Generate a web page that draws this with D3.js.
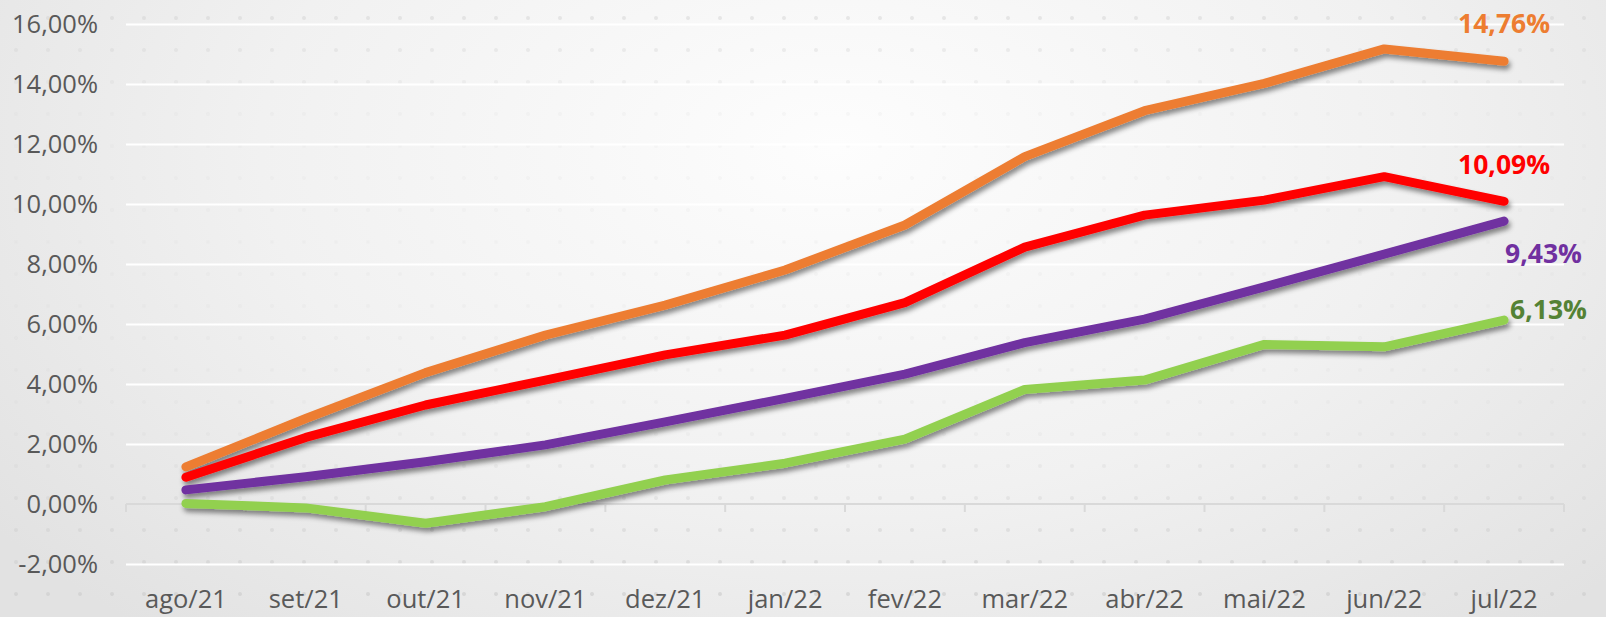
<!DOCTYPE html>
<html>
<head>
<meta charset="utf-8">
<script src="https://cdn.jsdelivr.net/npm/d3@7"></script>
<style>
  html, body { margin: 0; padding: 0; background: #f2f2f2; }
  svg { display: block; }
  text { font-family: "Open Sans", Lato, sans-serif; }
</style>
</head>
<body>
<div id="chart"></div>
<script>
// data
var months = ["ago/21", "set/21", "out/21", "nov/21", "dez/21", "jan/22",
              "fev/22", "mar/22", "abr/22", "mai/22", "jun/22", "jul/22"];
var seriesOrange = [1.24, 2.85, 4.38, 5.63, 6.63, 7.80, 9.30, 11.58, 13.11, 14.02, 15.17, 14.76];
var seriesRed    = [0.89, 2.22, 3.30, 4.13, 4.97, 5.63, 6.71, 8.56, 9.63, 10.13, 10.91, 10.09];
var seriesPurple = [0.47, 0.91, 1.41, 1.97, 2.74, 3.52, 4.33, 5.38, 6.16, 7.24, 8.33, 9.43];
var seriesGreen  = [0.02, -0.13, -0.64, -0.09, 0.80, 1.36, 2.16, 3.82, 4.13, 5.32, 5.24, 6.13];
var yTicks = [-2, 0, 2, 4, 6, 8, 10, 12, 14, 16];

var chart = {}
chart.width = 1606;
chart.height = 617;
chart.margin = {top: 24, right: 42, bottom: 53, left: 126};
chart.innerW = chart.width - chart.margin.left - chart.margin.right;
chart.innerH = chart.height - chart.margin.top - chart.margin.bottom;

var lines = [
  {values: seriesOrange, color: "#ED7D31", labelColor: "#ED7D31", dx: 0,  dy: -37, anchor: "middle"},
  {values: seriesRed,    color: "#FF0000", labelColor: "#FF0000", dx: 0,  dy: -37, anchor: "middle"},
  {values: seriesPurple, color: "#7030A0", labelColor: "#7030A0", dx: 1,  dy: 33,  anchor: "start"},
  {values: seriesGreen,  color: "#92D050", labelColor: "#548235", dx: 6,  dy: -10, anchor: "start"}
];

var fmt = function(v){ return v.toFixed(2).replace(".", ",") + "%"; };

var svg = d3.select("#chart")
  .append("svg")
  .attr("width", chart.width)
  .attr("height", chart.height);

var defs = svg.append("defs");

// background gradient
var bg = defs.append("radialGradient")
  .attr("id", "bg")
  .attr("cx", "52%").attr("cy", "30%").attr("r", "65%")
  .attr("gradientTransform", "scale(1,1.6) translate(0,-0.15)");
bg.append("stop").attr("offset", "0%").attr("stop-color", "#fdfdfd");
bg.append("stop").attr("offset", "55%").attr("stop-color", "#f1f1f1");
bg.append("stop").attr("offset", "100%").attr("stop-color", "#e2e2e2");

// faint dots texture
var pat = defs.append("pattern")
  .attr("id", "dots")
  .attr("width", 32).attr("height", 32)
  .attr("patternUnits", "userSpaceOnUse");
pat.append("circle").attr("cx", 16).attr("cy", 18).attr("r", 2).attr("fill", "#cfcfcf");

var fade = defs.append("linearGradient")
  .attr("id", "fade").attr("x1", 0).attr("y1", 0).attr("x2", 0).attr("y2", 1);
fade.append("stop").attr("offset", "0%").attr("stop-color", "#fff").attr("stop-opacity", 0.5);
fade.append("stop").attr("offset", "20%").attr("stop-color", "#fff").attr("stop-opacity", 0.1);
fade.append("stop").attr("offset", "70%").attr("stop-color", "#fff").attr("stop-opacity", 0.15);
fade.append("stop").attr("offset", "100%").attr("stop-color", "#fff").attr("stop-opacity", 0.8);
defs.append("mask").attr("id", "dotmask")
  .append("rect").attr("width", chart.width).attr("height", chart.height).attr("fill", "url(#fade)");

// shadow under the lines
var shadow = defs.append("filter")
  .attr("id", "shadow")
  .attr("x", "-5%").attr("y", "-20%").attr("width", "110%").attr("height", "140%");
shadow.append("feDropShadow")
  .attr("dx", 2).attr("dy", 4).attr("stdDeviation", 2.5)
  .attr("flood-color", "#000").attr("flood-opacity", 0.45);

svg.append("rect")
  .attr("width", chart.width).attr("height", chart.height)
  .attr("fill", "url(#bg)");
svg.append("rect")
  .attr("width", chart.width).attr("height", chart.height)
  .attr("fill", "url(#dots)")
  .attr("mask", "url(#dotmask)");

var g = svg.append("g")
  .attr("transform", "translate(" + chart.margin.left + "," + chart.margin.top + ")");

var x = d3.scaleBand()
  .domain(months)
  .range([0, chart.innerW])
  .padding(0);

var y = d3.scaleLinear()
  .domain([-2, 16])
  .range([chart.innerH, 0]);

var cx = function(i){ return x(months[i]) + x.bandwidth() / 2; };

// gridlines + y labels
var yAxis = g.append("g")
  .call(d3.axisLeft(y).tickValues(yTicks).tickSize(-chart.innerW).tickPadding(28).tickFormat(fmt));
yAxis.select(".domain").remove();
yAxis.selectAll("line")
  .attr("stroke", function(d){ return d === 0 ? "none" : "#ffffff"; })
  .attr("stroke-width", 2);
yAxis.selectAll("text")
  .attr("fill", "#595959")
  .style("font-size", "25.5px");

// zero axis with category separators
var zero = g.append("g").attr("transform", "translate(0," + y(0) + ")");
zero.append("line")
  .attr("x1", 0).attr("x2", chart.innerW)
  .attr("stroke", "#d9d9d9").attr("stroke-width", 2);
zero.selectAll(".sep")
  .data(months.concat(["end"]))
  .enter()
  .append("line")
  .attr("class", "sep")
  .attr("x1", function(d, i){ return i * x.step(); })
  .attr("x2", function(d, i){ return i * x.step(); })
  .attr("y1", 0).attr("y2", 8)
  .attr("stroke", "#d9d9d9").attr("stroke-width", 2);

// x labels at the bottom
var xAxis = g.append("g")
  .attr("transform", "translate(0," + chart.innerH + ")")
  .call(d3.axisBottom(x).tickSize(0).tickPadding(26));
xAxis.select(".domain").remove();
xAxis.selectAll("text")
  .attr("fill", "#595959")
  .style("font-size", "25.5px");

// lines
var line = d3.line()
  .x(function(d, i){ return cx(i); })
  .y(function(d){ return y(d); });

g.selectAll(".series")
  .data(lines)
  .enter()
  .append("path")
  .attr("class", "series")
  .attr("d", function(d){ return line(d.values); })
  .attr("fill", "none")
  .attr("stroke", function(d){ return d.color; })
  .attr("stroke-width", 9)
  .attr("stroke-linecap", "round")
  .attr("stroke-linejoin", "round")
  .attr("filter", "url(#shadow)");

// end labels
var last = months.length - 1;
g.selectAll(".lbl")
  .data(lines)
  .enter()
  .append("text")
  .attr("class", "lbl")
  .attr("x", function(d){ return cx(last) + d.dx; })
  .attr("y", function(d){ return y(d.values[last]) + d.dy; })
  .attr("dy", "0.35em")
  .attr("text-anchor", function(d){ return d.anchor; })
  .attr("fill", function(d){ return d.labelColor; })
  .style("font-size", "26.5px")
  .style("font-weight", "bold")
  .text(function(d){ return fmt(d.values[last]); });
</script>
</body>
</html>
